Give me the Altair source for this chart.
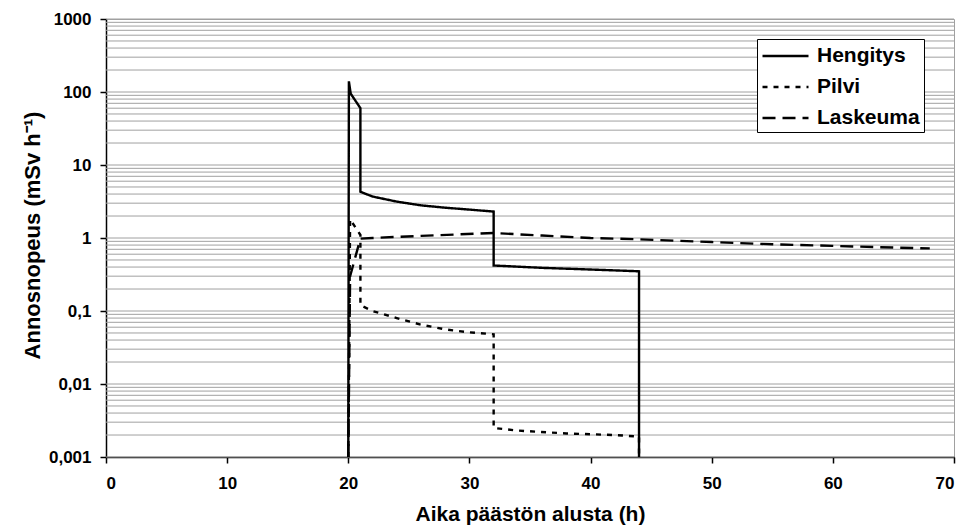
import altair as alt
import pandas as pd

# Hengitys (solid)
heng_x = [20, 20.05, 20.2, 21, 21, 22, 24, 26, 28, 30, 32, 32, 36, 40, 44, 44]
heng_y = [0.001, 140, 95, 60, 4.3, 3.7, 3.15, 2.8, 2.6, 2.45, 2.3, 0.42, 0.39, 0.37, 0.35, 0.001]

# Pilvi (dotted)
pilvi_x = [20, 20.15, 21, 21, 22, 24, 26, 28, 30, 32, 32, 34, 38, 42, 44, 44]
pilvi_y = [0.001, 1.8, 1.1, 0.12, 0.1, 0.08, 0.065, 0.056, 0.051, 0.048, 0.0025, 0.0023, 0.0021, 0.002, 0.0019, 0.001]

# Laskeuma (dashed)
lask_x = [20, 20.15, 21, 22, 26, 32, 36, 40, 44, 50, 55, 60, 65, 68]
lask_y = [0.001, 0.3, 0.98, 1.0, 1.07, 1.17, 1.08, 1.0, 0.96, 0.88, 0.82, 0.78, 0.74, 0.72]

series = ["Hengitys", "Pilvi", "Laskeuma"]
x_ticks = [0, 10, 20, 30, 40, 50, 60, 70]
y_ticks = [0.001, 0.01, 0.1, 1, 10, 100, 1000]
y_labels = ["0,001", "0,01", "0,1", "1", "10", "100", "1000"]

rows = []
for name, xs, ys in [("Hengitys", heng_x, heng_y), ("Pilvi", pilvi_x, pilvi_y), ("Laskeuma", lask_x, lask_y)]:
    for i, (a, b) in enumerate(zip(xs, ys)):
        rows.append({"series": name, "x": a, "y": b, "order": i})
df = pd.DataFrame(rows)

grid_vals = [m * 10 ** k for k in range(-3, 3) for m in range(1, 10)] + [1000]
grid_df = pd.DataFrame({"y": grid_vals})

label_expr = " : ".join(
    f"datum.value == {v} ? '{l}'" for v, l in zip(y_ticks, y_labels)
) + " : ''"

yscale = alt.Scale(type="log", domain=[0.001, 1000])
xscale = alt.Scale(domain=[0, 70])

y_axis = alt.Axis(values=y_ticks, labelExpr=label_expr, title="Annosnopeus (mSv h⁻¹)",
                  grid=False, tickSize=6, labelPadding=9, titleX=-62, titleY=216,
                  titleFontSize=22)

grid = alt.Chart(grid_df).mark_rule(color="#a0a0a0", strokeWidth=1).encode(
    y=alt.Y("y:Q", scale=yscale, axis=y_axis)
)

lines = alt.Chart(df).mark_line(color="black", strokeWidth=2.4, clip=True).encode(
    x=alt.X("x:Q", scale=xscale,
            axis=alt.Axis(values=x_ticks, title="Aika päästön alusta (h)", grid=False,
                          tickSize=6, labelPadding=12, titlePadding=12)),
    y=alt.Y("y:Q", scale=yscale, axis=y_axis),
    strokeDash=alt.StrokeDash(
        "series:N",
        scale=alt.Scale(domain=series, range=[[1, 0], [5, 6], [13, 7]]),
        sort=series,
        legend=alt.Legend(
            title=None, orient="none", legendX=651, legendY=20,
            symbolType="M-1,0L3,0", symbolSize=529, symbolStrokeWidth=2.5,
            symbolStrokeColor="black", labelFontSize=21, labelFontWeight="bold",
            labelFont="Liberation Sans", labelColor="black",
            strokeColor="black", fillColor="white", padding=4, rowPadding=8,
            labelOffset=30,
        ),
    ),
    order="order:Q",
)

chart = alt.layer(grid, lines).properties(
    width=848, height=438,
    autosize=alt.AutoSizeParams(type="none"),
    padding={"left": 98, "top": 11, "right": 5, "bottom": 70},
).configure_view(
    stroke="#a0a0a0", strokeWidth=1
).configure_axis(
    domainColor="black", domainWidth=1.5, tickColor="black", tickWidth=1.5,
    labelFont="Liberation Sans", labelFontSize=17, labelFontWeight="bold", labelColor="black",
    titleFont="Liberation Sans", titleFontSize=21, titleFontWeight="bold", titleColor="black",
)

chart.save("out.html", embed_options={"renderer": "svg", "actions": False})
